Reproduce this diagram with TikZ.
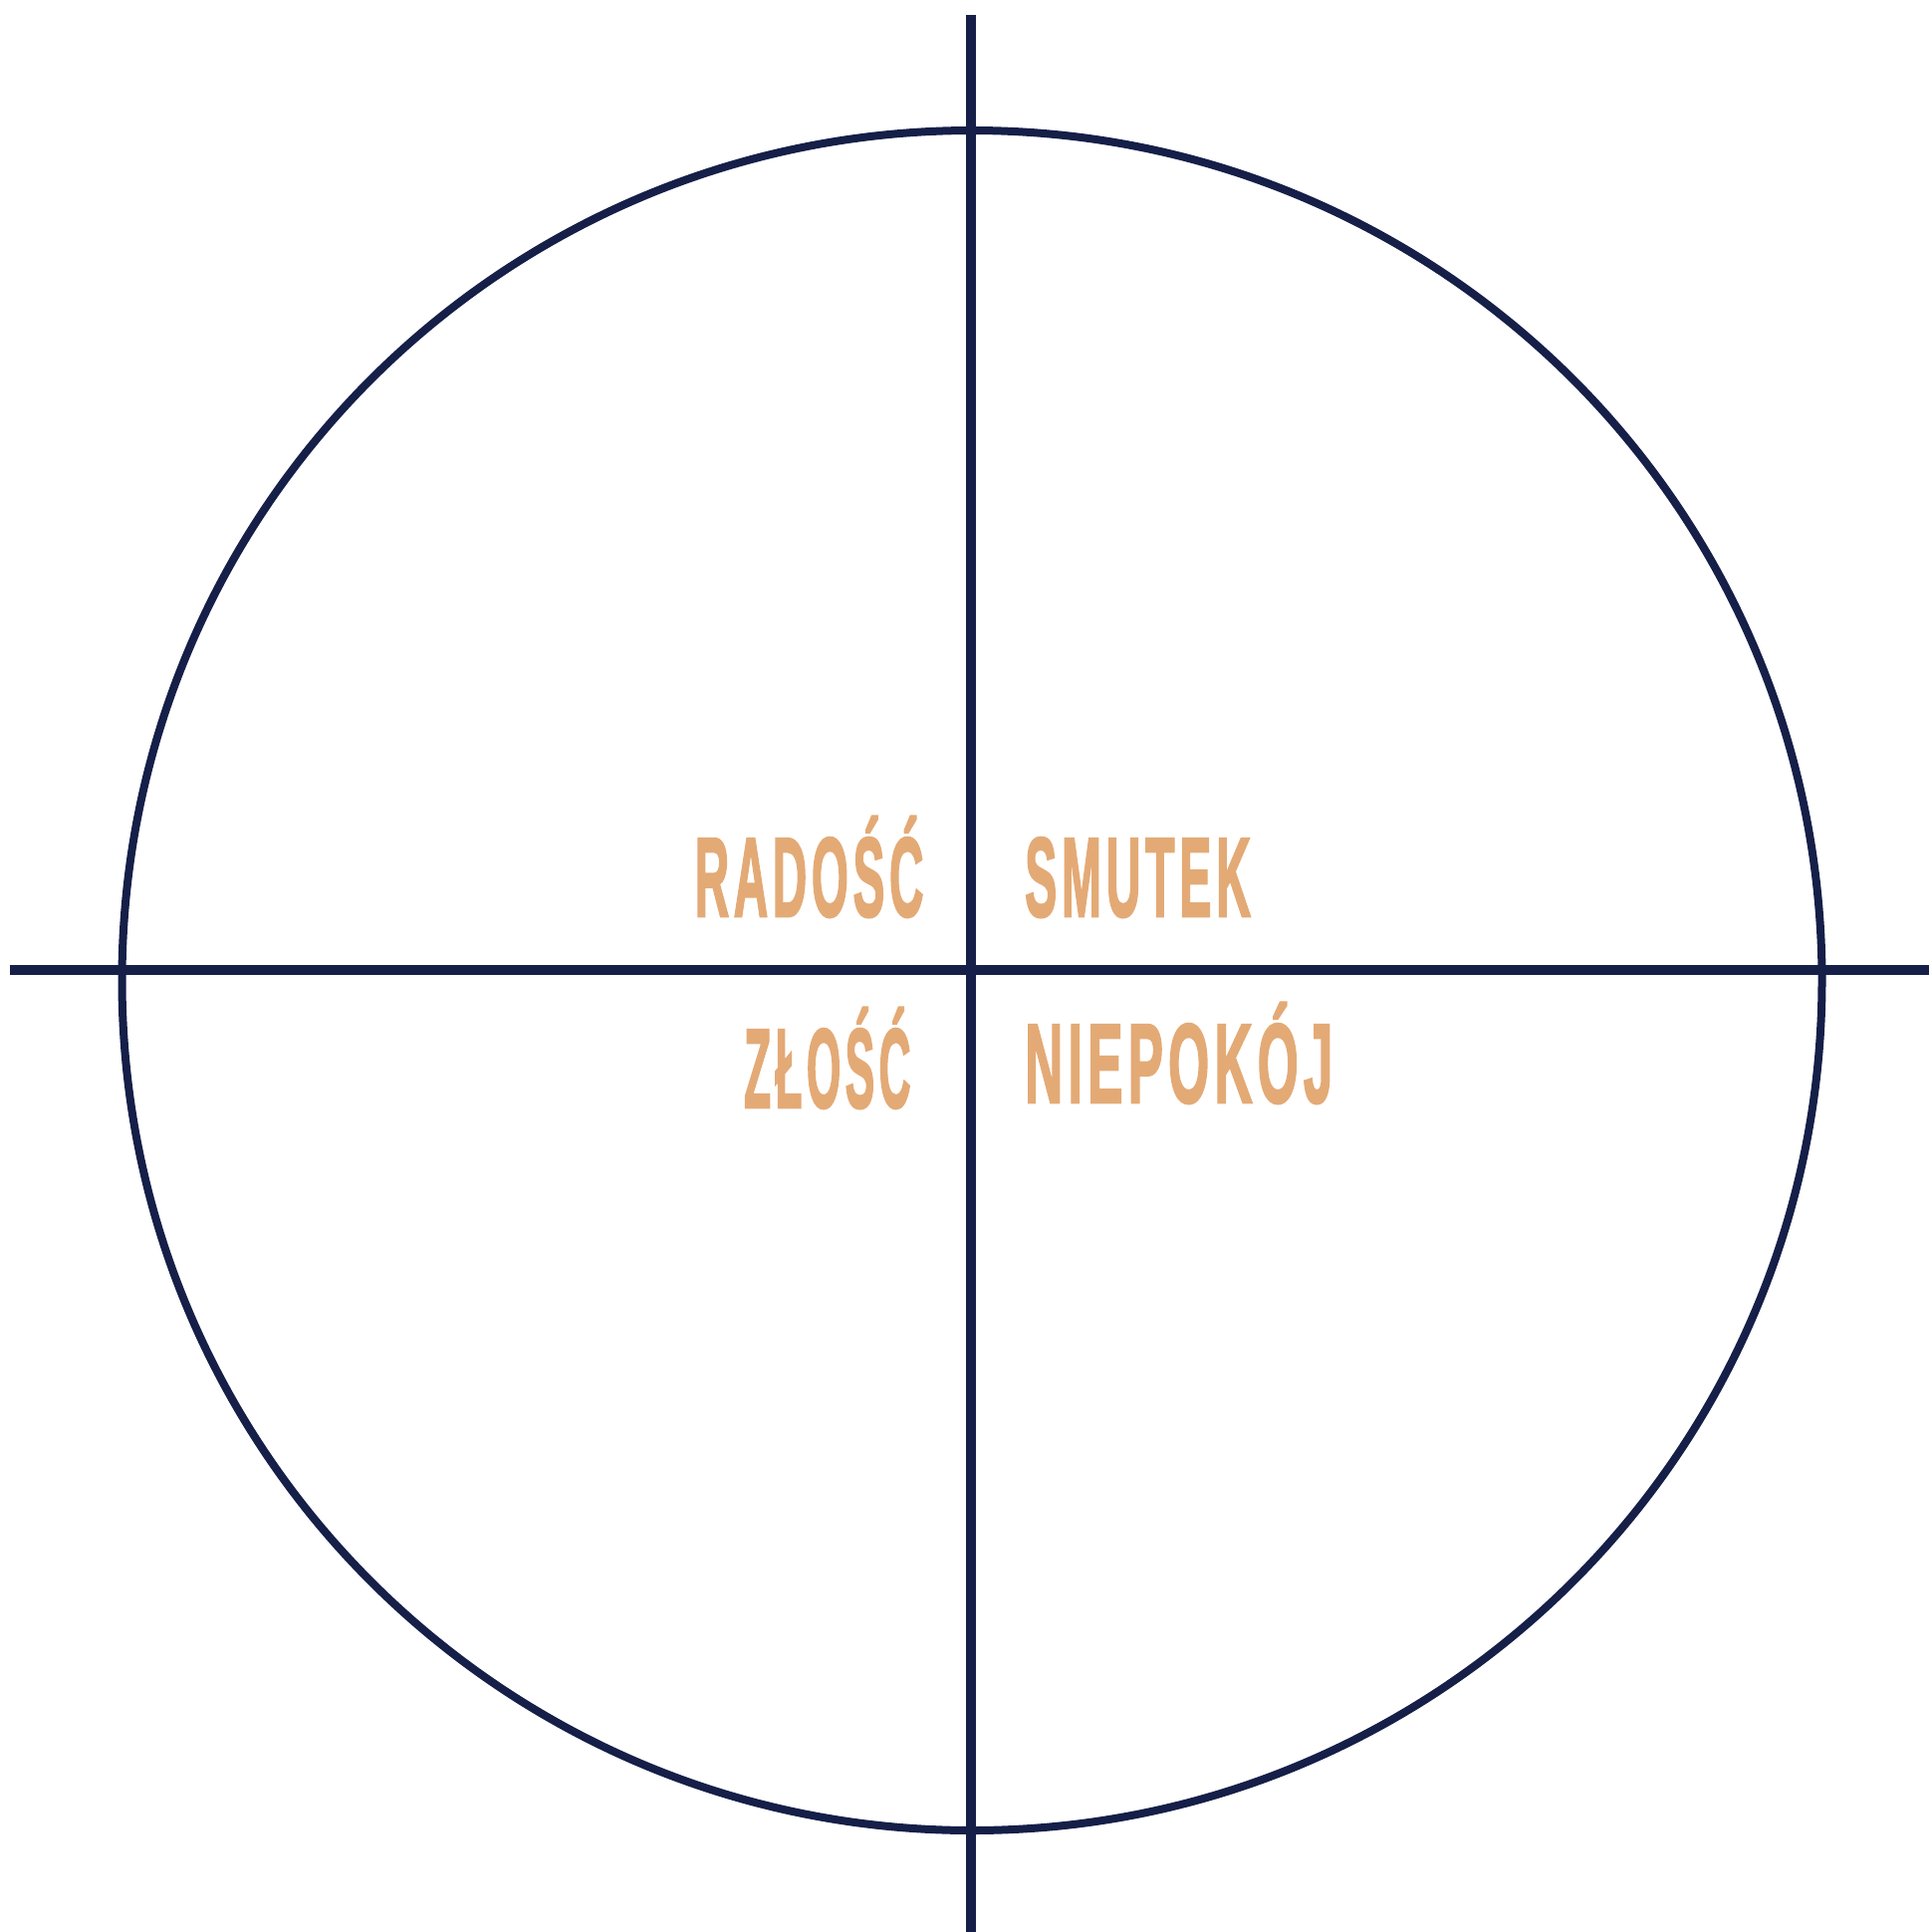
\documentclass[tikz,border=0pt]{standalone}
\usepackage{fontspec}
\setmainfont{Liberation Sans}
\newfontfamily\wordfont{Liberation Sans Bold}[FakeBold=2.5,LetterSpace=10]
\usepackage{graphicx}
\definecolor{navy}{RGB}{21,31,72}
\definecolor{tan}{RGB}{227,170,118}
\newcommand{\fitword}[2]{\resizebox{#1}{\height}{#2\kern-11pt}}
\begin{document}
\begin{tikzpicture}[x=1pt,y=-1pt,
  axis/.style={draw=navy,line width=10pt},
  ring/.style={draw=navy,line width=8pt},
  word/.style={text=tan,inner sep=0pt,anchor=base west,font=\wordfont\fontsize{113pt}{113pt}\selectfont}]
\useasboundingbox (0,0) rectangle (1937,1940);
\node[ring,circle,minimum size=1707pt,inner sep=0pt] (ring) at (976,984.5) {};
\coordinate (vtop) at (974.7,15);
\coordinate (vbot) at (974.7,1940);
\coordinate (hl) at (10,974);
\coordinate (hr) at (1937,974);
\draw[axis] (vtop) -- (vbot);
\draw[axis] (hl) -- (hr);
\node[word] (radosc) at (697.6,920) {\fitword{225pt}{RADOŚĆ}};
\node[word] (smutek) at (1029,920) {\fitword{222pt}{SMUTEK}};
\node[word] (zlosc) at (747,1112) {\fitword{163pt}{ZŁOŚĆ}};
\node[word] (niepokoj) at (1029,1107) {\fitword{304pt}{NIEPOKÓJ}};
\end{tikzpicture}
\end{document}
